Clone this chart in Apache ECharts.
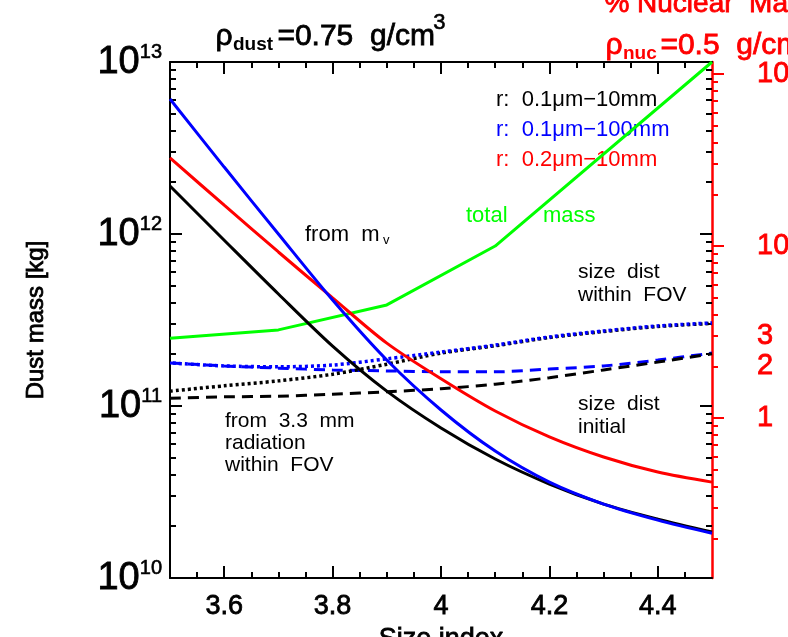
<!DOCTYPE html>
<html>
<head>
<meta charset="utf-8">
<script src="https://cdn.jsdelivr.net/npm/echarts@6/dist/echarts.min.js"></script>
<style>
html,body{margin:0;padding:0;background:#fff;}
#chart{width:788px;height:637px;}
</style>
</head>
<body>
<div id="chart"></div>
<script>
// ---- data ----
const sizeIndex = [3.5, 3.6, 3.7, 3.8, 3.9, 4.0, 4.1, 4.2, 4.3, 4.4, 4.5];
const massFromMv_r01_10 = [1.90e12, 9.2e11, 4.48e11, 2.23e11, 1.22e11, 7.45e10, 4.92e10, 3.52e10, 2.69e10, 2.20e10, 1.85e10];
const massFromMv_r01_100 = [6.09e12, 2.45e12, 1.0e12, 4.13e11, 1.85e11, 9.48e10, 5.47e10, 3.61e10, 2.69e10, 2.17e10, 1.82e10];
const massFromMv_r02_10 = [2.77e12, 1.47e12, 7.86e11, 4.25e11, 2.32e11, 1.44e11, 9.35e10, 6.61e10, 5.05e10, 4.13e10, 3.61e10];
const totalMassX = [3.5, 3.7, 3.9, 4.1, 4.5];
const totalMass = [2.48e11, 2.77e11, 3.87e11, 8.51e11, 1.0e13];
const fovDist_r01_10 = [1.22e11, 1.31e11, 1.40e11, 1.53e11, 1.75e11, 2.03e11, 2.24e11, 2.50e11, 2.71e11, 2.90e11, 3.02e11];
const fovDist_r01_100 = [1.78e11, 1.71e11, 1.69e11, 1.73e11, 1.88e11, 2.06e11, 2.26e11, 2.52e11, 2.73e11, 2.92e11, 3.04e11];
const initDist_r01_10 = [1.11e11, 1.13e11, 1.14e11, 1.17e11, 1.21e11, 1.26e11, 1.34e11, 1.46e11, 1.62e11, 1.80e11, 2.01e11];
const initDist_r01_100 = [1.78e11, 1.71e11, 1.66e11, 1.62e11, 1.60e11, 1.58e11, 1.58e11, 1.64e11, 1.71e11, 1.85e11, 2.03e11];

// ---- axis ticks / labels ----
const xMajorTicks = [3.6, 3.8, 4.0, 4.2, 4.4];
const xMinorTicks = [3.55, 3.65, 3.7, 3.75, 3.85, 3.9, 3.95, 4.05, 4.1, 4.15, 4.25, 4.3, 4.35, 4.45];
const yMajorTicks = [1e10, 1e11, 1e12, 1e13];
const yMinorTicks = [];
[1e10, 1e11, 1e12].forEach(d => { for (let k = 2; k <= 9; k++) yMinorTicks.push(k * d); });
const nucleusMassKg = 8.5e12;   // 100 % nuclear mass (rho_nuc = 0.5 g/cm3)
const pctMajorTicks = [1, 10, 100];
const pctLabels = [1, 2, 3, 10, 100];
const pctMinorTicks = [];
[0.1, 1, 10].forEach(d => { for (let k = 2; k <= 9; k++) pctMinorTicks.push(+(k * d).toFixed(3)); });

const yMin = 1e10, yMax = 1e13;
const FONT = 'Liberation Sans';

function pairs(xs, ys) { return xs.map((x, i) => [x, ys[i]]); }

const chart = echarts.init(document.getElementById('chart'), null, {renderer: 'canvas'});

const baseX = {type: 'value', min: 3.5, max: 4.5, splitLine: {show: false}, axisLabel: {show: false}};
const baseY = {type: 'log', logBase: 10, min: yMin, max: yMax, splitLine: {show: false}, axisLabel: {show: false}};

function txt(x, y, s, size, color, weight, thick) {
  return {type: 'text', left: x, top: y, silent: true,
    style: {text: s, fontSize: size, fontFamily: FONT, fill: color, fontWeight: weight || 'normal',
      stroke: thick ? color : null, lineWidth: thick || 0}};
}

const option = {
  backgroundColor: '#fff',
  animation: false,
  textStyle: {fontFamily: FONT},
  grid: {left: 170, top: 62, width: 542, height: 516, containLabel: false, outerBoundsMode: 'none'},
  xAxis: [
    Object.assign({}, baseX, {
      position: 'bottom',
      name: 'Size index', nameLocation: 'middle', nameGap: 47,
      nameTextStyle: {fontSize: 27, color: '#000', fontFamily: FONT, textBorderColor: '#000', textBorderWidth: 0.8},
      axisLine: {show: true, lineStyle: {color: '#000', width: 2}},
      axisTick: {show: true, inside: true, length: 12, customValues: xMajorTicks, lineStyle: {color: '#000', width: 2}},
      axisLabel: {show: true, customValues: xMajorTicks, margin: 15, fontSize: 27, color: '#000', fontFamily: FONT,
        textBorderColor: '#000', textBorderWidth: 0.8,
        formatter: v => String(+v.toFixed(1))}
    }),
    Object.assign({}, baseX, {
      position: 'bottom',
      axisLine: {show: false},
      axisTick: {show: true, inside: true, length: 6, customValues: xMinorTicks, lineStyle: {color: '#000', width: 2}}
    }),
    Object.assign({}, baseX, {
      position: 'top',
      axisLine: {show: true, lineStyle: {color: '#000', width: 2}},
      axisTick: {show: true, inside: true, length: 12, customValues: xMajorTicks, lineStyle: {color: '#000', width: 2}}
    }),
    Object.assign({}, baseX, {
      position: 'top',
      axisLine: {show: false},
      axisTick: {show: true, inside: true, length: 6, customValues: xMinorTicks, lineStyle: {color: '#000', width: 2}}
    })
  ],
  yAxis: [
    Object.assign({}, baseY, {
      position: 'left',
      name: 'Dust mass [kg]', nameLocation: 'middle', nameGap: 122, nameRotate: 90,
      nameTextStyle: {fontSize: 24, color: '#000', fontFamily: FONT, textBorderColor: '#000', textBorderWidth: 0.8},
      axisLine: {show: true, lineStyle: {color: '#000', width: 2}},
      axisTick: {show: true, inside: true, length: 12, customValues: yMajorTicks, lineStyle: {color: '#000', width: 2}},
      axisLabel: {show: true, customValues: yMajorTicks, margin: 8, color: '#000', fontFamily: FONT,
        formatter: v => '{b|10}{s|' + Math.round(Math.log10(v)) + '}',
        rich: {
          b: {fontSize: 38, fontFamily: FONT, color: '#000', verticalAlign: 'bottom', lineHeight: 40,
            textBorderColor: '#000', textBorderWidth: 0.8},
          s: {fontSize: 20, fontFamily: FONT, color: '#000', verticalAlign: 'top', lineHeight: 40, padding: [0, 0, 18, 0],
            textBorderColor: '#000', textBorderWidth: 0.6}
        }}
    }),
    Object.assign({}, baseY, {
      position: 'left',
      axisLine: {show: false},
      axisTick: {show: true, inside: true, length: 6, customValues: yMinorTicks, lineStyle: {color: '#000', width: 2}}
    }),
    Object.assign({}, baseY, {
      position: 'right',
      axisLine: {show: false},
      axisTick: {show: true, inside: true, length: 12, customValues: yMajorTicks, lineStyle: {color: '#000', width: 2}}
    }),
    Object.assign({}, baseY, {
      position: 'right',
      axisLine: {show: false},
      axisTick: {show: true, inside: true, length: 6, customValues: yMinorTicks, lineStyle: {color: '#000', width: 2}}
    }),
    {
      type: 'log', logBase: 10, position: 'right',
      min: yMin / nucleusMassKg * 100, max: yMax / nucleusMassKg * 100,
      splitLine: {show: false},
      axisLine: {show: true, lineStyle: {color: '#ff0000', width: 2.5}},
      axisTick: {show: true, inside: false, length: 12, customValues: pctMajorTicks, lineStyle: {color: '#ff0000', width: 2}},
      axisLabel: {show: true, customValues: pctLabels, margin: 45, fontSize: 29, color: '#ff0000', fontFamily: FONT,
        textBorderColor: '#ff0000', textBorderWidth: 0.8,
        formatter: v => String(Math.round(v))}
    },
    {
      type: 'log', logBase: 10, position: 'right',
      min: yMin / nucleusMassKg * 100, max: yMax / nucleusMassKg * 100,
      splitLine: {show: false},
      axisLine: {show: false},
      axisLabel: {show: false},
      axisTick: {show: true, inside: false, length: 6, customValues: pctMinorTicks, lineStyle: {color: '#ff0000', width: 2}}
    }
  ],
  series: [
    {name: 'total mass', type: 'line', data: pairs(totalMassX, totalMass), showSymbol: false,
      lineStyle: {color: '#00ff00', width: 3}},
    {name: 'init 0.1-100', type: 'line', data: pairs(sizeIndex, initDist_r01_100), showSymbol: false, smooth: 0.3,
      lineStyle: {color: '#0000ff', width: 3, type: [11, 7]}},
    {name: 'init 0.1-10', type: 'line', data: pairs(sizeIndex, initDist_r01_10), showSymbol: false, smooth: 0.3,
      lineStyle: {color: '#000000', width: 3, type: [11, 7]}},
    {name: 'fov 0.1-10', type: 'line', data: pairs(sizeIndex, fovDist_r01_10), showSymbol: false, smooth: 0.3,
      lineStyle: {color: '#000000', width: 3.5, type: [3, 3]}},
    {name: 'fov 0.1-100', type: 'line', data: pairs(sizeIndex, fovDist_r01_100), showSymbol: false, smooth: 0.3,
      lineStyle: {color: '#0000ff', width: 3.5, type: [3, 3], dashOffset: 3}},
    {name: 'mv 0.2-10', type: 'line', data: pairs(sizeIndex, massFromMv_r02_10), showSymbol: false, smooth: 0.3,
      lineStyle: {color: '#ff0000', width: 3}},
    {name: 'mv 0.1-10', type: 'line', data: pairs(sizeIndex, massFromMv_r01_10), showSymbol: false, smooth: 0.3,
      lineStyle: {color: '#000000', width: 3}},
    {name: 'mv 0.1-100', type: 'line', data: pairs(sizeIndex, massFromMv_r01_100), showSymbol: false, smooth: 0.3,
      lineStyle: {color: '#0000ff', width: 3}}
  ],
  graphic: [
    // title (dust density)
    txt(215, 21, 'ρ', 30, '#000', 'normal', 0.8),
    txt(233, 35, 'dust', 19, '#000', 'bold'),
    txt(277, 21, '=0.75  g/cm', 30, '#000', 'normal', 0.8),
    txt(433, 12, '3', 22, '#000', 'normal', 0.6),
    // right axis title and nucleus density (cut by the frame)
    txt(604, -10, '% Nuclear  Mass', 28, '#ff0000', 'normal', 0.8),
    txt(605, 30, 'ρ', 30, '#ff0000', 'normal', 0.8),
    txt(623, 44, 'nuc', 19, '#ff0000', 'bold'),
    txt(660, 30, '=0.5  g/cm', 30, '#ff0000', 'normal', 0.8),
    txt(802, 21, '3', 22, '#ff0000'),
    // legend of radius ranges
    txt(496, 89, 'r:  0.1μm−10mm', 22, '#000000'),
    txt(496, 119, 'r:  0.1μm−100mm', 22, '#0000ff'),
    txt(496, 149, 'r:  0.2μm−10mm', 22, '#ff0000'),
    // annotations
    txt(305, 224, 'from  m', 22, '#000'),
    txt(383, 234, 'v', 13, '#000'),
    txt(466, 205, 'total', 22, '#00ff00'),
    txt(543, 205, 'mass', 22, '#00ff00'),
    {type: 'text', left: 578, top: 261, style: {text: 'size  dist\nwithin  FOV', fontSize: 21, lineHeight: 23, fontFamily: FONT, fill: '#000'}},
    {type: 'text', left: 578, top: 393, style: {text: 'size  dist\ninitial', fontSize: 21, lineHeight: 23, fontFamily: FONT, fill: '#000'}},
    {type: 'text', left: 225, top: 410, style: {text: 'from  3.3  mm\nradiation\nwithin  FOV', fontSize: 21, lineHeight: 22, fontFamily: FONT, fill: '#000'}}
  ]
};
chart.setOption(option);
</script>
</body>
</html>
